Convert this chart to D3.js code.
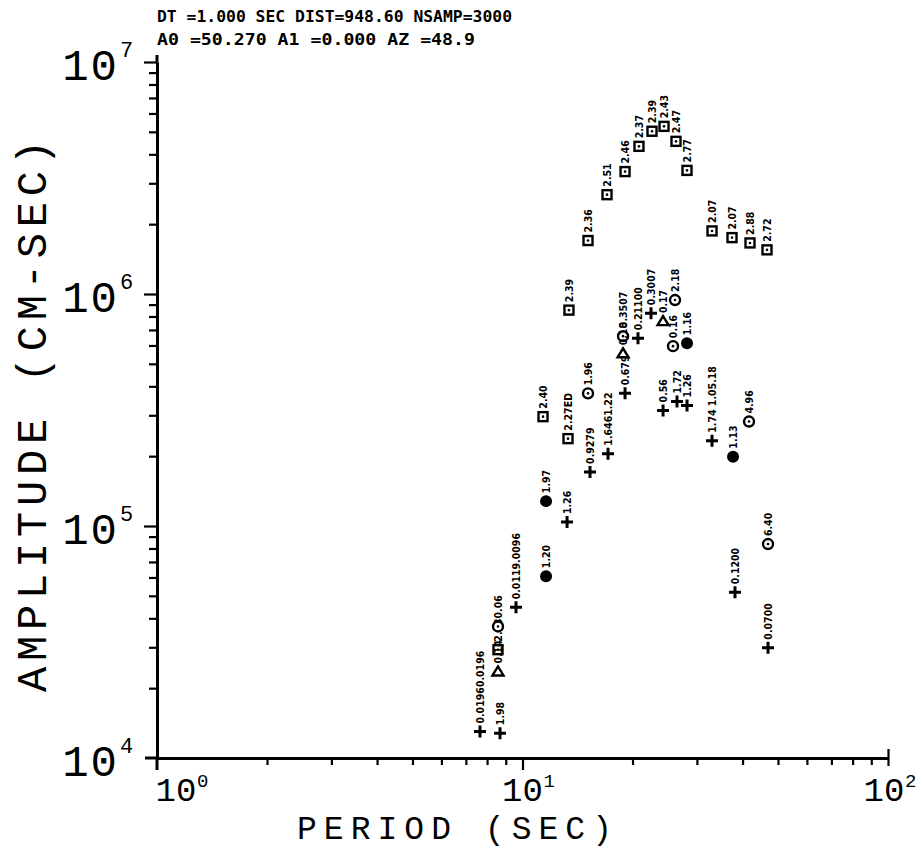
<!DOCTYPE html>
<html><head><meta charset="utf-8">
<script src="https://cdn.jsdelivr.net/npm/d3@7/dist/d3.min.js"></script>
<style>body{margin:0;background:#fff}</style>
</head><body>
<svg id="c" width="924" height="851"></svg>
<script>
// ---- data ----
const headerLines = ["DT =1.000 SEC   DIST=948.60  NSAMP=3000", "A0 =50.270 A1 =0.000 AZ =48.9"];
const xTitle = "PERIOD (SEC)";
const yTitle = "AMPLITUDE (CM-SEC)";
const xDecades = [0, 1, 2];
const yDecades = [4, 5, 6, 7];

const squarePeriod = [11.38, 13.32, 13.40, 15.11, 17.03, 19.08, 20.83, 22.61, 24.39, 26.30, 28.19, 33.00, 37.43, 41.92, 46.66, 8.57];
const squareAmp    = [2.96e5, 2.38e5, 8.52e5, 1.70e6, 2.68e6, 3.37e6, 4.33e6, 5.03e6, 5.28e6, 4.55e6, 3.41e6, 1.87e6, 1.75e6, 1.66e6, 1.55e6, 2.93e4];
const squareLabel  = ["2.40", "2.27ED", "2.39", "2.36", "2.51", "2.46", "2.37", "2.39", "2.43", "2.47", "2.77", "2.07", "2.07", "2.88", "2.72", "2.33"];

const openCirclePeriod = [15.11, 18.84, 26.14, 25.81, 41.66, 8.57, 46.96];
const openCircleAmp    = [3.73e5, 6.58e5, 9.42e5, 5.96e5, 2.82e5, 3.69e4, 8.36e4];
const openCircleLabel  = ["1.96", "0.3507", "2.18", "0.16", "4.96", "0.06", "6.40"];

const fillCirclePeriod = [11.60, 28.19, 37.67, 11.60];
const fillCircleAmp    = [1.28e5, 6.14e5, 1.99e5, 6.08e4];
const fillCircleLabel  = ["1.97", "1.16", "1.13", "1.20"];

const plusPeriod = [7.65, 8.68, 9.60, 13.24, 15.30, 17.14, 19.08, 20.70, 22.47, 24.24, 26.47, 28.19, 33.00, 38.14, 46.96];
const plusAmp    = [1.30e4, 1.28e4, 4.46e4, 1.04e5, 1.71e5, 2.05e5, 3.73e5, 6.45e5, 8.27e5, 3.15e5, 3.44e5, 3.31e5, 2.33e5, 5.18e4, 2.99e4];
const plusLabel  = ["0.01960.0196", "1.98", "0.0119.0096", "1.26", "0.9279", "1.6461.22", "0.679", "0.21100", "0.3007", "0.56", "1.72", "1.26", "1.74 1.05.18", "0.1200", "0.0700"];

const triPeriod = [18.84, 24.24, 8.57];
const triAmp    = [5.55e5, 7.64e5, 2.36e4];
const triLabel  = ["0.18", "0.17", "0.14"];

// ---- drawing ----
const svg = d3.select("#c");
const x = d3.scaleLog().domain([1, 100]).range([157, 888]);
const y = d3.scaleLog().domain([1e4, 1e7]).range([758, 62]);
const mono = "'Liberation Mono', 'DejaVu Sans Mono', monospace";

// header
svg.selectAll("text.hdr").data(headerLines).enter().append("text")
  .attr("class", "hdr")
  .attr("x", 157).attr("y", (d, i) => 22 + i * 23)
  .attr("font-family", "'DejaVu Sans Mono', monospace").attr("font-weight", "bold").attr("font-size", 15)
  .attr("textLength", (d, i) => i === 0 ? 355 : 318).attr("lengthAdjust", "spacingAndGlyphs")
  .text(d => d);

// tick values
function minors(lo, hi) {
  const v = [];
  for (let e = lo; e < hi; e++) for (let m = 2; m <= 9; m++) v.push(m * Math.pow(10, e));
  return v;
}
const xMinor = minors(0, 2);
const yMinor = minors(4, 7);

// axes
const gx = svg.append("g").attr("transform", "translate(0,758)");
gx.call(d3.axisBottom(x).tickValues(xMinor).tickSize(7).tickSizeOuter(0).tickFormat(""));
gx.append("g").call(d3.axisBottom(x).tickValues([10]).tickSize(12).tickSizeOuter(0).tickFormat(""));
gx.append("g").call(d3.axisBottom(x).tickValues([100]).tickSize(8).tickSizeOuter(0).tickFormat(""))
  .selectAll(".tick line").attr("y1", -9);
gx.selectAll("path.domain").attr("stroke-width", 3);
gx.selectAll(".tick line").attr("stroke-width", 2.2);

const gy = svg.append("g").attr("transform", "translate(157,0)");
gy.call(d3.axisLeft(y).tickValues(yMinor).tickSize(8).tickSizeOuter(0).tickFormat(""));
gy.append("g").call(d3.axisLeft(y).tickValues([1e5, 1e6, 1e7]).tickSize(13).tickSizeOuter(0).tickFormat(""));
gy.selectAll("path.domain").attr("stroke-width", 3);
gy.selectAll(".tick line").attr("stroke-width", 2.2);
svg.append("line").attr("x1", 157).attr("x2", 157).attr("y1", y(1e7)).attr("y2", y(1e7) - 7).attr("stroke", "#000").attr("stroke-width", 3);
svg.append("line").attr("x1", 157).attr("x2", 157).attr("y1", 758).attr("y2", 770).attr("stroke", "#000").attr("stroke-width", 3);
svg.append("line").attr("x1", 145).attr("x2", 157).attr("y1", 758).attr("y2", 758).attr("stroke", "#000").attr("stroke-width", 3);

// y tick labels
const yl = svg.selectAll("g.yl").data(yDecades).enter().append("g").attr("class", "yl");
yl.append("text").attr("x", 119).attr("y", d => y(Math.pow(10, d)) + 18)
  .attr("text-anchor", "end").attr("font-family", mono).attr("font-size", 44)
  .attr("letter-spacing", 2).text("10");
yl.append("text").attr("x", 120).attr("y", d => y(Math.pow(10, d)) - 5)
  .attr("font-family", mono).attr("font-size", 22).text(d => d);

// x tick labels
const xOff = [19, 0, -4];
const xlab = svg.selectAll("g.xl").data(xDecades).enter().append("g").attr("class", "xl");
xlab.append("text").attr("x", (d, i) => x(Math.pow(10, d)) + xOff[i]).attr("y", 801)
  .attr("text-anchor", "middle").attr("font-family", mono).attr("font-size", 34).text("10");
xlab.append("text").attr("x", (d, i) => x(Math.pow(10, d)) + xOff[i] + 21).attr("y", 787)
  .attr("font-family", mono).attr("font-size", 19).text(d => d);

// axis titles
svg.append("text").attr("x", 297).attr("y", 839)
  .attr("font-family", mono).attr("font-size", 33)
  .attr("textLength", 315).attr("lengthAdjust", "spacing").text(xTitle);
svg.append("text").attr("transform", "translate(46,692) rotate(-90)")
  .attr("font-family", mono).attr("font-size", 42)
  .attr("textLength", 552).attr("lengthAdjust", "spacing").text(yTitle);

// marks
const plot = svg.append("g");
function series(per, amp, lab) { return per.map((p, i) => ({ p, a: amp[i], l: lab[i] })); }
function labels(data) {
  plot.selectAll(null).data(data).enter().append("text")
    .attr("transform", d => `translate(${x(d.p) + 4},${y(d.a) - 8}) rotate(-90)`)
    .attr("font-family", "'DejaVu Sans Condensed','DejaVu Sans',sans-serif")
    .attr("font-weight", "bold").attr("font-size", 10.5).text(d => d.l);
}

const sq = series(squarePeriod, squareAmp, squareLabel);
plot.selectAll(null).data(sq).enter().append("rect")
  .attr("x", d => x(d.p) - 4.5).attr("y", d => y(d.a) - 4.5).attr("width", 9).attr("height", 9)
  .attr("fill", "#fff").attr("stroke", "#000").attr("stroke-width", 2.4);
plot.selectAll(null).data(sq).enter().append("circle")
  .attr("cx", d => x(d.p)).attr("cy", d => y(d.a)).attr("r", 1.3).attr("fill", "#000");
labels(sq);

const oc = series(openCirclePeriod, openCircleAmp, openCircleLabel);
plot.selectAll(null).data(oc).enter().append("circle")
  .attr("cx", d => x(d.p)).attr("cy", d => y(d.a)).attr("r", 5)
  .attr("fill", "#fff").attr("stroke", "#000").attr("stroke-width", 2.4);
plot.selectAll(null).data(oc).enter().append("circle")
  .attr("cx", d => x(d.p)).attr("cy", d => y(d.a)).attr("r", 1.3).attr("fill", "#000");
labels(oc);

const fc = series(fillCirclePeriod, fillCircleAmp, fillCircleLabel);
plot.selectAll(null).data(fc).enter().append("circle")
  .attr("cx", d => x(d.p)).attr("cy", d => y(d.a)).attr("r", 6).attr("fill", "#000");
labels(fc);

const pl = series(plusPeriod, plusAmp, plusLabel);
plot.selectAll(null).data(pl).enter().append("path")
  .attr("d", d => { const cx = x(d.p), cy = y(d.a); return `M${cx-6},${cy}H${cx+6}M${cx},${cy-6}V${cy+6}`; })
  .attr("stroke", "#000").attr("stroke-width", 3);
labels(pl);

const tr = series(triPeriod, triAmp, triLabel);
plot.selectAll(null).data(tr).enter().append("path")
  .attr("d", d => { const cx = x(d.p), cy = y(d.a); return `M${cx-5.5},${cy+4}L${cx},${cy-5}L${cx+5.5},${cy+4}Z`; })
  .attr("fill", "#fff").attr("stroke", "#000").attr("stroke-width", 2.4);
labels(tr);
</script>
</body></html>
